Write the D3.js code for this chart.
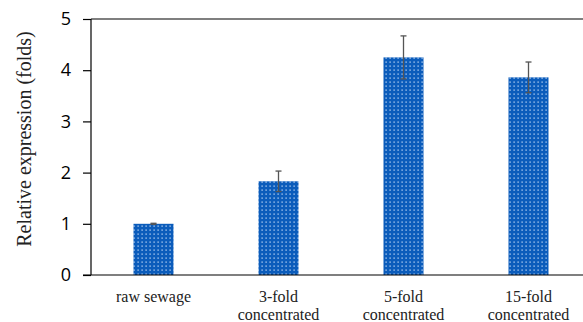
<!DOCTYPE html>
<html>
<head>
<meta charset="utf-8">
<script src="https://cdn.jsdelivr.net/npm/d3@7"></script>
<style>
  body { margin: 0; background: #fff; }
</style>
</head>
<body>
<div id="chart"></div>
<script>
const categories = ["raw sewage", "3-fold\nconcentrated", "5-fold\nconcentrated", "15-fold\nconcentrated"];
const values = [1.0, 1.83, 4.25, 3.86];
const errors = [0.01, 0.2, 0.42, 0.3];
const yTicks = [0, 1, 2, 3, 4, 5];

const width = 583,
  height = 322,
  margin = ({ top: 19, right: -8, bottom: 47, left: 91 });

const x = d3.scaleBand()
  .domain(categories)
  .range([margin.left, width - margin.right])
  .paddingInner(0.68)
  .paddingOuter(0.34);

const y = d3.scaleLinear()
  .domain([0, 5])
  .range([height - margin.bottom, margin.top]);

const svg = d3.select("#chart")
  .append("svg")
  .attr("width", width)
  .attr("height", height);

// dotted fill like the original
const pat = svg.append("defs").append("pattern")
  .attr("id", "dots")
  .attr("patternUnits", "userSpaceOnUse")
  .attr("width", 4)
  .attr("height", 4);
pat.append("rect").attr("width", 4).attr("height", 4).attr("fill", "#0b5cbb");
pat.append("rect").attr("x", 1.5).attr("y", 1.5).attr("width", 1.2).attr("height", 1.2).attr("fill", "#d6e8ff");

// top border line
svg.append("line")
  .attr("x1", margin.left).attr("x2", width)
  .attr("y1", y(5)).attr("y2", y(5))
  .attr("stroke", "#000").attr("stroke-width", 1.2);

svg.append("g")
  .selectAll("rect")
  .data(values)
  .join("rect")
  .attr("x", (d, i) => x(categories[i]))
  .attr("y", d => y(d))
  .attr("width", x.bandwidth())
  .attr("height", d => y(0) - y(d))
  .attr("fill", "url(#dots)");

// error bars
const eb = svg.append("g")
  .attr("stroke", "#555")
  .attr("stroke-width", 1.3);
values.forEach((v, i) => {
  const cx = x(categories[i]) + x.bandwidth() / 2;
  eb.append("line").attr("x1", cx).attr("x2", cx).attr("y1", y(v - errors[i])).attr("y2", y(v + errors[i]));
  eb.append("line").attr("x1", cx - 3).attr("x2", cx + 3).attr("y1", y(v + errors[i])).attr("y2", y(v + errors[i]));
  eb.append("line").attr("x1", cx - 3).attr("x2", cx + 3).attr("y1", y(v - errors[i])).attr("y2", y(v - errors[i]));
});

// y axis
const yAxis = svg.append("g")
  .attr("transform", `translate(${margin.left},0)`)
  .call(d3.axisLeft(y).tickValues(yTicks).tickFormat(d3.format("d")).tickSize(8).tickPadding(12));
yAxis.selectAll("path, line").attr("stroke", "#000").attr("stroke-width", 1.2);
yAxis.select(".domain").attr("d", `M0,${y(0)}V${y(5)}`);
yAxis.selectAll("text")
  .attr("font-family", "'Open Sans', sans-serif")
  .attr("font-size", 18)
  .attr("fill", "#000");

// x axis line
svg.append("line")
  .attr("x1", margin.left - 8).attr("x2", width)
  .attr("y1", y(0)).attr("y2", y(0))
  .attr("stroke", "#000").attr("stroke-width", 1.2);

// x labels
svg.append("g")
  .selectAll("text")
  .data(categories)
  .join("text")
  .attr("x", d => x(d) + x.bandwidth() / 2)
  .attr("y", y(0) + 27)
  .attr("text-anchor", "middle")
  .attr("font-family", "'Liberation Serif', 'Times New Roman', serif")
  .attr("font-size", 16)
  .attr("fill", "#222")
  .each(function (d) {
    const t = d3.select(this);
    d.split("\n").forEach((s, k) => {
      t.append("tspan").attr("x", x(d) + x.bandwidth() / 2).attr("dy", k === 0 ? 0 : 18).text(s);
    });
  });

// y title
svg.append("text")
  .attr("transform", `translate(31,${(y(0) + y(5)) / 2 - 8}) rotate(-90)`)
  .attr("text-anchor", "middle")
  .attr("font-family", "'Liberation Serif', 'Times New Roman', serif")
  .attr("font-size", 20)
  .attr("fill", "#222")
  .text("Relative expression (folds)");
</script>
</body>
</html>
